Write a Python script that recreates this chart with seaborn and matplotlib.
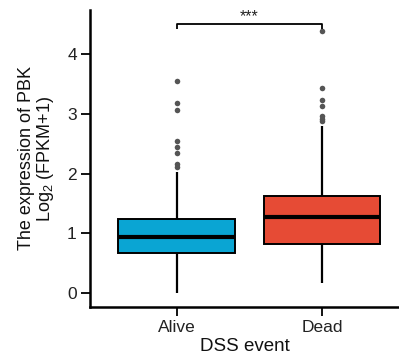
import matplotlib
matplotlib.use("Agg")
import matplotlib.pyplot as plt
import seaborn as sns
import pandas as pd

# ---- data ----
groups = ["Alive", "Dead"]
colors = ["#0AA5D3", "#E64B35"]
# five-number summaries: lower whisker, Q1, median, Q3, upper whisker
alive_stats = [0.01, 0.67, 0.94, 1.24, 2.03]
dead_stats = [0.17, 0.82, 1.28, 1.63, 2.80]
alive_outliers = [3.55, 3.18, 3.07, 2.55, 2.44, 2.35, 2.17, 2.12]
dead_outliers = [4.39, 3.43, 3.23, 3.14, 2.96, 2.92, 2.89]
sig_label = "***"
yticks = [0, 1, 2, 3, 4]


def expand(stats, outliers, k=30):
    lo, q1, med, q3, hi = stats
    return [lo] + [q1] * k + [med] * k + [q3] * k + [hi] + list(outliers)


rows = []
for g, st, out in [("Alive", alive_stats, alive_outliers), ("Dead", dead_stats, dead_outliers)]:
    for v in expand(st, out):
        rows.append({"group": g, "value": v})
df = pd.DataFrame(rows)

sns.set_style("ticks")
plt.rcParams["font.family"] = ["Liberation Sans", "DejaVu Sans"]
plt.rcParams["mathtext.default"] = "regular"

fig = plt.figure(figsize=(3.99, 3.58), dpi=100)
ax = fig.add_axes([0.2256, 0.1425, 0.7744, 0.8296])

sns.boxplot(
    data=df, x="group", y="value", hue="group", order=groups, hue_order=groups,
    palette=colors, saturation=1, width=0.8, showcaps=False, legend=False, ax=ax,
    linewidth=1.4, linecolor="black",
    medianprops=dict(color="black", linewidth=3),
    whiskerprops=dict(color="black", linewidth=1.6),
    boxprops=dict(edgecolor="black", linewidth=1.4),
    flierprops=dict(marker="o", markersize=4, markerfacecolor="#555555",
                    markeredgecolor="none"),
)

ax.set_xlim(-0.595, 1.53)
ax.set_ylim(-0.23, 4.74)
ax.set_yticks(yticks)
ax.set_yticklabels([str(t) for t in yticks])

for s in ["top", "right"]:
    ax.spines[s].set_visible(False)
for s in ["left", "bottom"]:
    ax.spines[s].set_linewidth(1.8)
    ax.spines[s].set_color("black")
ax.tick_params(axis="both", length=6.5, width=1.3, labelsize=12.5, colors="black",
               labelcolor="#222222", pad=3)

ax.set_xlabel("DSS event", fontsize=13.5, color="#111111", labelpad=2)
ax.set_ylabel("The expression of PBK\nLog$_2$ (FPKM+1)", fontsize=13,
              color="#111111", labelpad=8, linespacing=1.0)

# significance bracket
ax.plot([0, 0, 1, 1], [4.43, 4.51, 4.51, 4.43], color="black", lw=1.3,
        solid_capstyle="butt")
ax.text(0.5, 4.50, sig_label, ha="center", va="bottom", fontsize=11.5,
        color="#222222")

fig.savefig("out.png", dpi=100)
